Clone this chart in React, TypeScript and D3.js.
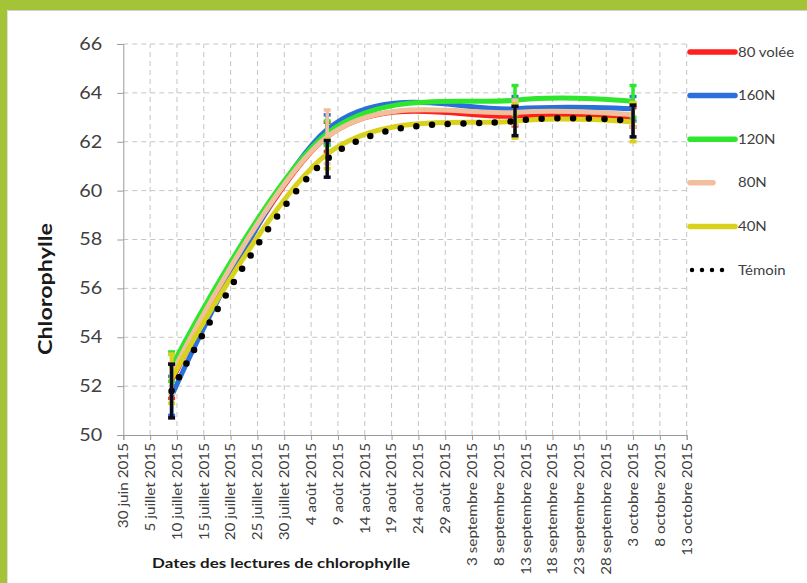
import React from "react";
import * as d3 from "d3";

// -- DATA --
const readDates = ["2015-07-09", "2015-08-07", "2015-09-11", "2015-10-03"];
const seriesNames = ["80 volée", "160N", "120N", "80N", "40N", "Témoin"];
const seriesColors = ["#ff1f1f", "#2a6fdb", "#2ee62e", "#f2bf9c", "#d9d21c", "#000000"];

const volee80 = [52.2, 62.2, 63.05, 63.0];
const n160 = [51.6, 62.5, 63.35, 63.35];
const n120 = [52.8, 62.35, 63.7, 63.65];
const n80 = [52.5, 62.2, 63.2, 63.1];
const n40 = [52.3, 61.5, 62.85, 62.8];
const temoin = [51.8, 61.3, 62.85, 62.85];

const volee80Err = [0.7, 0.6, 0.4, 0.4];
const n160Err = [0.8, 0.6, 0.5, 0.5];
const n120Err = [0.6, 0.5, 0.6, 0.65];
const n80Err = [0.8, 1.1, 0.5, 0.5];
const n40Err = [1.0, 0.6, 0.7, 0.8];
const temoinErr = [1.1, 0.75, 0.6, 0.65];

const xTickLabels = [
  "30 juin 2015", "5 juillet 2015", "10 juillet 2015", "15 juillet 2015",
  "20 juillet 2015", "25 juillet 2015", "30 juillet 2015", "4 août 2015",
  "9 août 2015", "14 août 2015", "19 août 2015", "24 août 2015", "29 août 2015",
  "3 septembre 2015", "8 septembre 2015", "13 septembre 2015", "18 septembre 2015",
  "23 septembre 2015", "28 septembre 2015", "3 octobre 2015", "8 octobre 2015",
  "13 octobre 2015",
];
const yTicks = [50, 52, 54, 56, 58, 60, 62, 64, 66];

const FONT = "Lato, 'Open Sans', sans-serif";

// stretch text along its baseline (the source image is stretched)
const stretch = (sel: any, k: number) =>
  sel.each(function (this: SVGTextElement) {
    const len = this.getComputedTextLength();
    d3.select(this).attr("textLength", len * k).attr("lengthAdjust", "spacingAndGlyphs");
  });

const App = () => {
  const svgRef = React.useRef<SVGSVGElement>(null);

  React.useEffect(() => {
    const svg = d3.select(svgRef.current);
    svg.selectAll("*").remove();

    // frame
    svg.append("rect").attr("width", 807).attr("height", 583).attr("fill", "#ffffff");
    svg.append("rect").attr("width", 807).attr("height", 10).attr("fill", "#a5c337");
    svg.append("rect").attr("width", 7).attr("height", 583).attr("fill", "#a5c337");
    svg.append("line").attr("x1", 7).attr("x2", 807).attr("y1", 10.5).attr("y2", 10.5)
      .attr("stroke", "#cfcfcf");
    svg.append("line").attr("x1", 7.5).attr("x2", 7.5).attr("y1", 10).attr("y2", 583)
      .attr("stroke", "#dedede");

    // scales
    const parse = d3.utcParse("%Y-%m-%d");
    const start = parse("2015-06-30") as Date;
    const tickDates = xTickLabels.map((_, i) => d3.utcDay.offset(start, i * 5));
    const x = d3.scaleUtc()
      .domain([start, tickDates[tickDates.length - 1]])
      .range([123.3, 686.7]);
    const y = d3.scaleLinear().domain([50, 66]).range([435, 44]);

    // grid
    const grid = svg.append("g").attr("stroke", "#c4c4c4").attr("stroke-dasharray", "5,4");
    grid.selectAll("hline")
      .data(yTicks.slice(1))
      .enter()
      .append("line")
      .attr("x1", x.range()[0]).attr("x2", x.range()[1])
      .attr("y1", (d) => y(d)).attr("y2", (d) => y(d));
    grid.selectAll("vline")
      .data(tickDates.slice(1))
      .enter()
      .append("line")
      .attr("x1", (d) => x(d)).attr("x2", (d) => x(d))
      .attr("y1", y(50)).attr("y2", y(66));

    // axes
    const yAxis = svg.append("g")
      .attr("transform", `translate(${x.range()[0]},0)`)
      .call(d3.axisLeft(y).tickValues(yTicks).tickSize(6).tickPadding(15));
    yAxis.select(".domain").attr("stroke", "#9a9a9a");
    yAxis.selectAll(".tick line").attr("stroke", "#9a9a9a");
    yAxis.selectAll(".tick text")
      .attr("fill", "#404040")
      .attr("textLength", 23)
      .attr("lengthAdjust", "spacingAndGlyphs")
      .style("font-family", FONT)
      .style("font-size", "17px");

    const xAxis = svg.append("g")
      .attr("transform", `translate(0,${y(50)})`)
      .call(
        d3.axisBottom(x)
          .tickValues(tickDates)
          .tickSize(5)
          .tickFormat((_, i) => xTickLabels[i])
      );
    xAxis.select(".domain").attr("stroke", "#9a9a9a");
    xAxis.selectAll(".tick line").attr("stroke", "#9a9a9a");
    const xLabels = xAxis.selectAll(".tick text")
      .attr("transform", "rotate(-90)")
      .attr("text-anchor", "end")
      .attr("x", -8)
      .attr("y", 0)
      .attr("dy", "0.35em")
      .attr("fill", "#404040")
      .style("font-family", FONT)
      .style("font-size", "12.5px");
    stretch(xLabels, 1.22);

    // titles
    svg.append("text")
      .attr("transform", "translate(52,289) rotate(-90)")
      .attr("text-anchor", "middle")
      .attr("fill", "#1a1a1a")
      .attr("textLength", 132)
      .attr("lengthAdjust", "spacingAndGlyphs")
      .style("font-family", FONT)
      .style("font-weight", "bold")
      .style("font-size", "18px")
      .text("Chlorophylle");
    svg.append("text")
      .attr("x", 281)
      .attr("y", 568)
      .attr("text-anchor", "middle")
      .attr("fill", "#1a1a1a")
      .attr("textLength", 258)
      .attr("lengthAdjust", "spacingAndGlyphs")
      .style("font-family", FONT)
      .style("font-weight", "bold")
      .style("font-size", "14px")
      .text("Dates des lectures de chlorophylle");

    // series: line then error bars, in legend order
    const values = [volee80, n160, n120, n80, n40, temoin];
    const errors = [volee80Err, n160Err, n120Err, n80Err, n40Err, temoinErr];
    const dates = readDates.map((d) => parse(d) as Date);
    const line = d3.line<[Date, number]>()
      .x((d) => x(d[0]))
      .y((d) => y(d[1]))
      .curve(d3.curveCardinal.tension(0));

    values.forEach((vals, s) => {
      const pts = dates.map((d, i) => [d, vals[i]] as [Date, number]);
      const isTemoin = s === values.length - 1;
      svg.append("path")
        .attr("d", line(pts))
        .attr("fill", "none")
        .attr("stroke", seriesColors[s])
        .attr("stroke-width", isTemoin ? 6.5 : 5)
        .attr("stroke-linecap", "round")
        .attr("stroke-dasharray", isTemoin ? "0 15.7" : null);

      const bars = svg.append("g")
        .attr("stroke", isTemoin ? "#0a0a1e" : seriesColors[s])
        .attr("stroke-width", 3.5);
      bars.selectAll("bar")
        .data(pts)
        .enter()
        .append("line")
        .attr("x1", (d) => x(d[0])).attr("x2", (d) => x(d[0]))
        .attr("y1", (d, i) => y(d[1] - errors[s][i]))
        .attr("y2", (d, i) => y(d[1] + errors[s][i]));
      [-1, 1].forEach((sign) => {
        bars.selectAll("cap")
          .data(pts)
          .enter()
          .append("line")
          .attr("x1", (d) => x(d[0]) - 3.5).attr("x2", (d) => x(d[0]) + 3.5)
          .attr("y1", (d, i) => y(d[1] + sign * errors[s][i]))
          .attr("y2", (d, i) => y(d[1] + sign * errors[s][i]));
      });
    });

    // legend
    const legend = svg.selectAll("legendItem")
      .data(seriesNames)
      .enter()
      .append("g")
      .attr("transform", (_, i) => `translate(0,${52 + i * 43.6})`);
    legend.append("line")
      .attr("x1", (_, i) => (i === 5 ? 692 : 690))
      .attr("x2", (_, i) => (i === 3 ? 713 : i === 5 ? 732 : 735))
      .attr("stroke", (_, i) => seriesColors[i])
      .attr("stroke-width", (_, i) => (i === 5 ? 4.5 : 5.5))
      .attr("stroke-linecap", "round")
      .attr("stroke-dasharray", (_, i) => (i === 5 ? "0 10" : null));
    const legendText = legend.append("text")
      .attr("x", 738)
      .attr("dy", "0.35em")
      .attr("fill", "#404040")
      .style("font-family", FONT)
      .style("font-size", "13px")
      .text((d) => d);
    stretch(legendText, 1.15);
  }, []);

  return (
    <div style={{ position: "absolute", left: 0, top: 0 }}>
      <svg ref={svgRef} width={807} height={583} style={{ display: "block" }} />
    </div>
  );
};

export default App;
